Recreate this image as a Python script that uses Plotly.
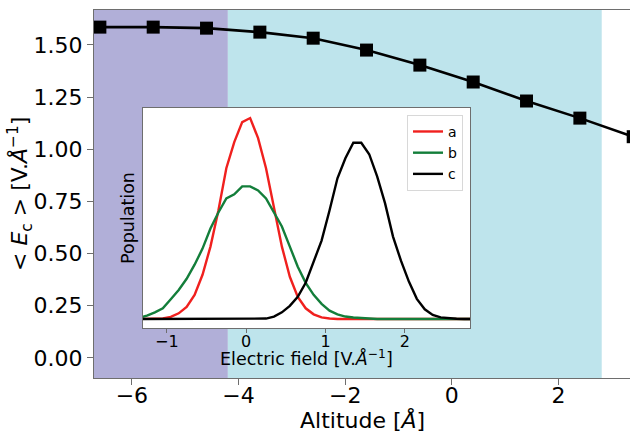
import plotly.graph_objects as go

# Main series
altitude = [-6.6, -5.6, -4.6, -3.6, -2.6, -1.6, -0.6, 0.4, 1.4, 2.4, 3.4]
mean_field = [1.585, 1.585, 1.580, 1.561, 1.532, 1.475, 1.403, 1.322, 1.231, 1.149, 1.06]

# Shaded regions (altitude bounds)
region_purple = [-6.71, -4.2]
region_cyan = [-4.2, 2.81]

# Inset distributions
field = [-1.35, -1.25, -1.15, -1.05, -0.95, -0.85, -0.75, -0.65, -0.55, -0.45,
         -0.35, -0.25, -0.15, -0.05, 0.05, 0.15, 0.25, 0.35, 0.45, 0.55,
         0.65, 0.75, 0.85, 0.95, 1.05, 1.15, 1.25, 1.35, 1.45, 1.55,
         1.65, 1.75, 1.85, 1.95, 2.05, 2.15, 2.25, 2.35, 2.45, 2.55,
         2.65, 2.75, 2.85]
pop_a = [0, 0, 0, 0.003, 0.01, 0.028, 0.06, 0.12, 0.22, 0.36,
         0.54, 0.75, 0.88, 0.98, 1.0, 0.90, 0.75, 0.56, 0.36, 0.21,
         0.11, 0.053, 0.023, 0.008, 0.002, 0, 0, 0, 0, 0,
         0, 0, 0, 0, 0, 0, 0, 0, 0, 0,
         0, 0, 0]
pop_b = [0.005, 0.017, 0.033, 0.053, 0.098, 0.144, 0.20, 0.27, 0.35, 0.45,
         0.53, 0.60, 0.62, 0.66, 0.66, 0.64, 0.60, 0.53, 0.46, 0.36,
         0.26, 0.18, 0.12, 0.075, 0.041, 0.023, 0.012, 0.007, 0.004, 0.002,
         0, 0, 0, 0, 0, 0, 0, 0, 0, 0,
         0, 0, 0]
pop_c = [0, 0, 0, 0, 0, 0, 0, 0, 0, 0,
         0, 0, 0, 0, 0, 0, 0.002, 0.012, 0.033, 0.065,
         0.11, 0.18, 0.29, 0.39, 0.54, 0.70, 0.80, 0.877, 0.877, 0.82,
         0.71, 0.575, 0.41, 0.29, 0.186, 0.10, 0.048, 0.02, 0.008, 0.003,
         0.001, 0, 0]

inset_ticks = [-1, 0, 1, 2]
main_xticks = [-6, -4, -2, 0, 2]
main_yticks = [0.0, 0.25, 0.5, 0.75, 1.0, 1.25, 1.5]

FONT = "DejaVu Sans"
SPINE = "#6e6e6e"

fig = go.Figure()

fig.add_trace(go.Scatter(
    x=altitude, y=mean_field, mode="lines+markers",
    line=dict(color="black", width=2.6),
    marker=dict(symbol="square", size=13, color="black"),
    showlegend=False, xaxis="x", yaxis="y"))

for name, ys, col in [("a", pop_a, "#f0201e"), ("b", pop_b, "#137e3a"), ("c", pop_c, "black")]:
    fig.add_trace(go.Scatter(
        x=field, y=ys, mode="lines", name=name,
        line=dict(color=col, width=2.4),
        xaxis="x2", yaxis="y2"))

shapes = [
    dict(type="rect", xref="x", yref="paper", x0=region_purple[0], x1=region_purple[1],
         y0=0, y1=1, fillcolor="#b1afd8", line=dict(width=0), layer="below"),
    dict(type="rect", xref="x", yref="paper", x0=region_cyan[0], x1=region_cyan[1],
         y0=0, y1=1, fillcolor="#bee4ec", line=dict(width=0), layer="below"),
    dict(type="rect", xref="x2 domain", yref="y2 domain", x0=0, x1=1, y0=0, y1=1,
         fillcolor="white", line=dict(width=0), layer="below"),
]

INSET_DOM_X = [0.0914, 0.7015]
INSET_DOM_Y = [0.1359, 0.7337]

annotations = [
    dict(text="Electric field [V.<i>Å</i><sup>−1</sup>]", xref="paper", yref="paper",
         x=(INSET_DOM_X[0] + INSET_DOM_X[1]) / 2, y=0.055, xanchor="center", yanchor="middle",
         showarrow=False, font=dict(size=17.5, family=FONT, color="black")),
    dict(text="Altitude [<i>Å</i>]", xref="paper", yref="paper",
         x=0.5, y=-0.114, xanchor="center", yanchor="middle",
         showarrow=False, font=dict(size=22, family=FONT, color="black")),
    dict(text="&lt; <i>E</i><sub>c</sub> &gt; [V.<i>Å</i><sup>−1</sup>]", xref="paper", yref="paper",
         x=-0.138, y=0.5, xanchor="center", yanchor="middle", textangle=-90,
         showarrow=False, font=dict(size=22, family=FONT, color="black")),
]

fig.update_layout(
    width=630, height=433,
    margin=dict(l=94, r=0, t=10, b=55),
    paper_bgcolor="white", plot_bgcolor="white",
    font=dict(family=FONT, color="black"),
    shapes=shapes,
    annotations=annotations,
    xaxis=dict(range=[-6.71, 3.34], tickvals=main_xticks, ticks="outside", ticklen=6,
               tickcolor=SPINE, showline=True, linecolor=SPINE, linewidth=1.2, mirror=True,
               showgrid=False, zeroline=False, tickfont=dict(size=22),
               ticklabelstandoff=-9),
    yaxis=dict(range=[-0.096, 1.667], tickvals=main_yticks, tickformat=".2f", ticks="outside",
               ticklen=6, tickcolor=SPINE, showline=True, linecolor=SPINE, linewidth=1.2,
               showgrid=False, zeroline=False, tickfont=dict(size=22)),
    xaxis2=dict(domain=INSET_DOM_X, anchor="y2", range=[-1.30, 2.82],
                tickvals=inset_ticks, ticks="outside", ticklen=4, tickcolor=SPINE,
                showline=True, linecolor=SPINE, linewidth=1.2, mirror=True,
                showgrid=False, zeroline=False, tickfont=dict(size=16),
                ticklabelstandoff=-5),
    yaxis2=dict(domain=INSET_DOM_Y, anchor="x2", range=[-0.045, 1.05],
                showticklabels=False, ticks="", showline=True, linecolor=SPINE,
                linewidth=1.2, mirror=True, showgrid=False, zeroline=False,
                title=dict(text="Population", font=dict(size=17.5), standoff=2)),
    legend=dict(x=0.584, y=0.715, xanchor="left", yanchor="top",
                bgcolor="white", bordercolor="#d8d8d8", borderwidth=1,
                font=dict(size=14), tracegroupgap=0, itemwidth=30),
)

fig.write_html("out.html")
